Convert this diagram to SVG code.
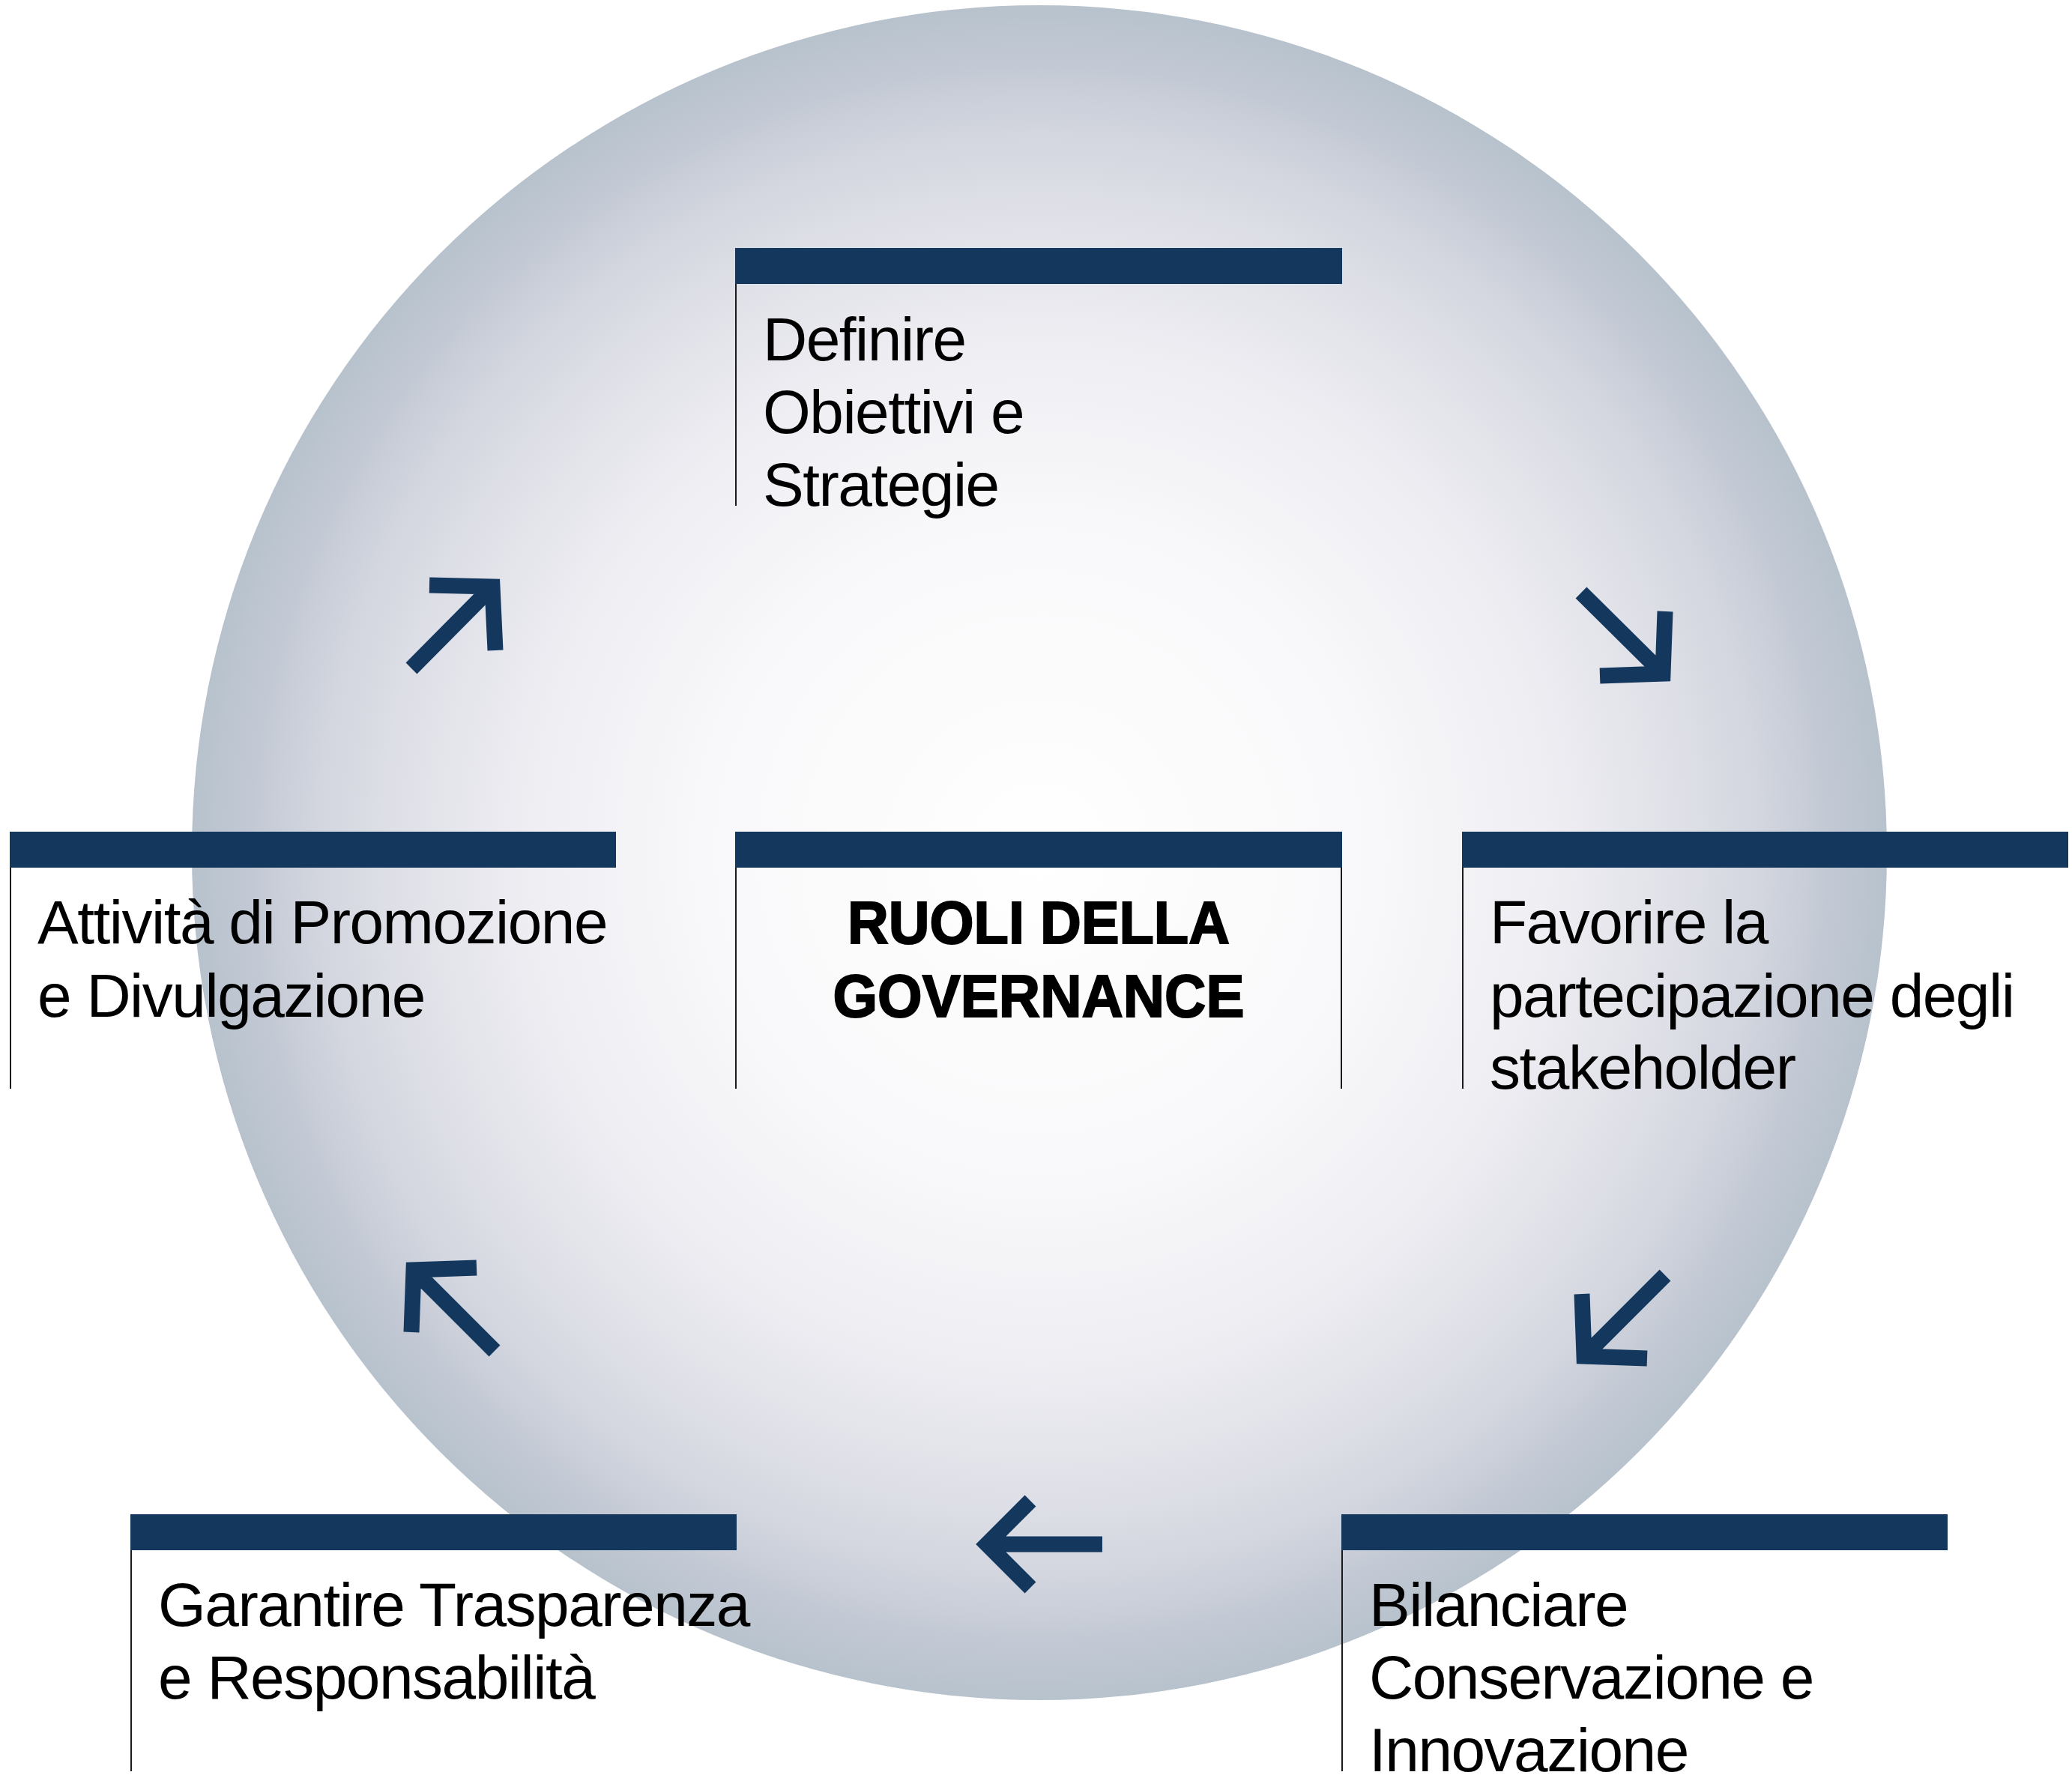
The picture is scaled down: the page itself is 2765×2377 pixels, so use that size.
<svg xmlns="http://www.w3.org/2000/svg" width="2765" height="2377" viewBox="0 0 2765 2377">
  <defs>
    <radialGradient id="disc" gradientUnits="userSpaceOnUse" cx="1387" cy="1138" r="1131">
      <stop offset="0" stop-color="#ffffff"/>
      <stop offset="0.4" stop-color="#f8f8fa"/>
      <stop offset="0.6" stop-color="#eeeef3"/>
      <stop offset="0.75" stop-color="#e0e1e8"/>
      <stop offset="0.85" stop-color="#d3d6df"/>
      <stop offset="0.93" stop-color="#c3c9d4"/>
      <stop offset="1" stop-color="#b7c2cd"/>
    </radialGradient>
  </defs>
  <style>
    .bar { fill: #14375e; }
    .rule { stroke: #1a1a1a; stroke-width: 2; fill: none; }
    .lbl { font-family: "Liberation Sans", Arial, sans-serif; font-size: 82px; letter-spacing: -1.5px; fill: #000; }
    .title { font-family: "Liberation Sans", Arial, sans-serif; font-size: 80px; font-weight: bold; fill: #000; stroke: #000; stroke-width: 2; text-anchor: middle; }
    .arrow { stroke: #14375e; stroke-width: 21; fill: none; stroke-linecap: butt; stroke-linejoin: miter; }
  </style>
  <rect width="2765" height="2377" fill="#ffffff"/>
  <circle cx="1387" cy="1138" r="1131" fill="url(#disc)"/>

  <g id="connectors">
    <path class="arrow" d="M 549 892 L 657 783 M 573 781 L 657 783 L 661 868"/>
    <path class="arrow" d="M 2110 791 L 2219 899 M 2135 902 L 2219 899 L 2222 816"/>
    <path class="arrow" d="M 2222 1702 L 2114 1810 M 2111 1727 L 2114 1810 L 2198 1813"/>
    <path class="arrow" d="M 1471 2061 L 1322 2061 M 1375 2003 L 1317 2061 L 1375 2119"/>
    <path class="arrow" d="M 660 1803 L 552 1695 M 636 1692 L 552 1695 L 549 1778"/>
  </g>

  <g id="node-definire">
    <rect class="bar" x="981" y="331" width="810" height="48"/>
    <line class="rule" x1="982" y1="379" x2="982" y2="675"/>
    <text class="lbl" x="1018" y="481">Definire</text>
    <text class="lbl" x="1018" y="578">Obiettivi e</text>
    <text class="lbl" x="1018" y="675">Strategie</text>
  </g>

  <g id="node-attivita">
    <rect class="bar" x="13" y="1110" width="809" height="48"/>
    <line class="rule" x1="14" y1="1158" x2="14" y2="1453"/>
    <text class="lbl" x="50" y="1259">Attività di Promozione</text>
    <text class="lbl" x="50" y="1357">e Divulgazione</text>
  </g>

  <g id="node-center">
    <rect class="bar" x="981" y="1110" width="810" height="48"/>
    <line class="rule" x1="982" y1="1158" x2="982" y2="1453"/>
    <line class="rule" x1="1790" y1="1158" x2="1790" y2="1453"/>
    <text class="title" x="1386" y="1259" textLength="510" lengthAdjust="spacingAndGlyphs">RUOLI DELLA</text>
    <text class="title" x="1386" y="1357" textLength="549" lengthAdjust="spacingAndGlyphs">GOVERNANCE</text>
  </g>

  <g id="node-favorire">
    <rect class="bar" x="1951" y="1110" width="809" height="48"/>
    <line class="rule" x1="1952" y1="1158" x2="1952" y2="1453"/>
    <text class="lbl" x="1988" y="1259">Favorire la</text>
    <text class="lbl" x="1988" y="1357">partecipazione degli</text>
    <text class="lbl" x="1988" y="1453">stakeholder</text>
  </g>

  <g id="node-garantire">
    <rect class="bar" x="174" y="2021" width="809" height="48"/>
    <line class="rule" x1="175" y1="2069" x2="175" y2="2364"/>
    <text class="lbl" x="211" y="2170">Garantire Trasparenza</text>
    <text class="lbl" x="211" y="2267">e Responsabilità</text>
  </g>

  <g id="node-bilanciare">
    <rect class="bar" x="1790" y="2021" width="809" height="48"/>
    <line class="rule" x1="1791" y1="2069" x2="1791" y2="2364"/>
    <text class="lbl" x="1827" y="2170">Bilanciare</text>
    <text class="lbl" x="1827" y="2267">Conservazione e</text>
    <text class="lbl" x="1827" y="2364">Innovazione</text>
  </g>
</svg>
